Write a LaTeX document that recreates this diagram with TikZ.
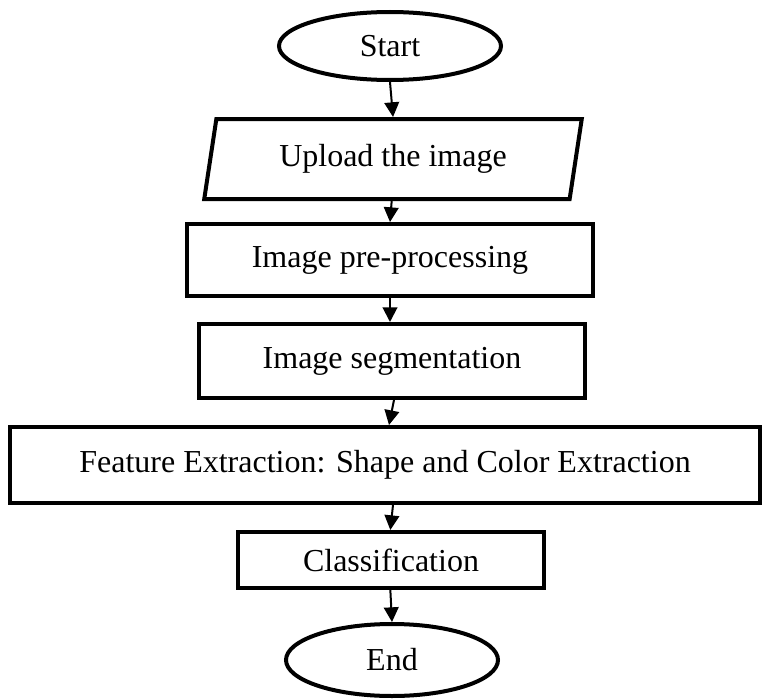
\documentclass[tikz,border=0pt]{standalone}
\usepackage{fontspec}
\setmainfont{Liberation Serif}
\usetikzlibrary{shapes.geometric,arrows.meta}
\begin{document}
\begin{tikzpicture}[x=0.75pt,y=-0.75pt,
  box/.style={draw, line width=3pt, inner sep=0pt, font=\fontsize{24}{28}\selectfont},
  term/.style={box, ellipse},
  proc/.style={box, rectangle},
  io/.style={box, trapezium, trapezium left angle=75, trapezium right angle=105, trapezium stretches=true},
  flow/.style={line width=1.5pt, -{Triangle[length=11pt,width=11pt]}}]
\useasboundingbox (0,0) rectangle (764,699);
\node[term, minimum width=166.5pt, minimum height=51pt] (start) at (390,46) {Start};
\node[io, minimum width=283.5pt, minimum height=60pt] (upload) at (393,159) {Upload the image};
\node[proc, minimum width=304.5pt, minimum height=54pt] (pre) at (390,260) {Image pre-processing};
\node[proc, minimum width=289pt, minimum height=55.5pt] (seg) at (392,361) {Image segmentation};
\node[proc, minimum width=562.5pt, minimum height=57pt] (feat) at (385,465) {Feature Extraction: Shape and Color Extraction};
\node[proc, minimum width=229.5pt, minimum height=42pt] (cls) at (391,560) {Classification};
\node[term, minimum width=159pt, minimum height=54pt] (end) at (392,660) {End};
\draw[flow] (start.south) -- (upload.north);
\draw[flow] ([xshift=-1pt]upload.south) -- (pre.north);
\draw[flow] (pre.south) -- ([xshift=-1.5pt]seg.north);
\draw[flow] ([xshift=1.5pt]seg.south) -- ([xshift=3pt]feat.north);
\draw[flow] ([xshift=6pt]feat.south) -- ([xshift=-0.5pt]cls.north);
\draw[flow] ([xshift=-0.5pt]cls.south) -- (end.north);
\end{tikzpicture}
\end{document}
